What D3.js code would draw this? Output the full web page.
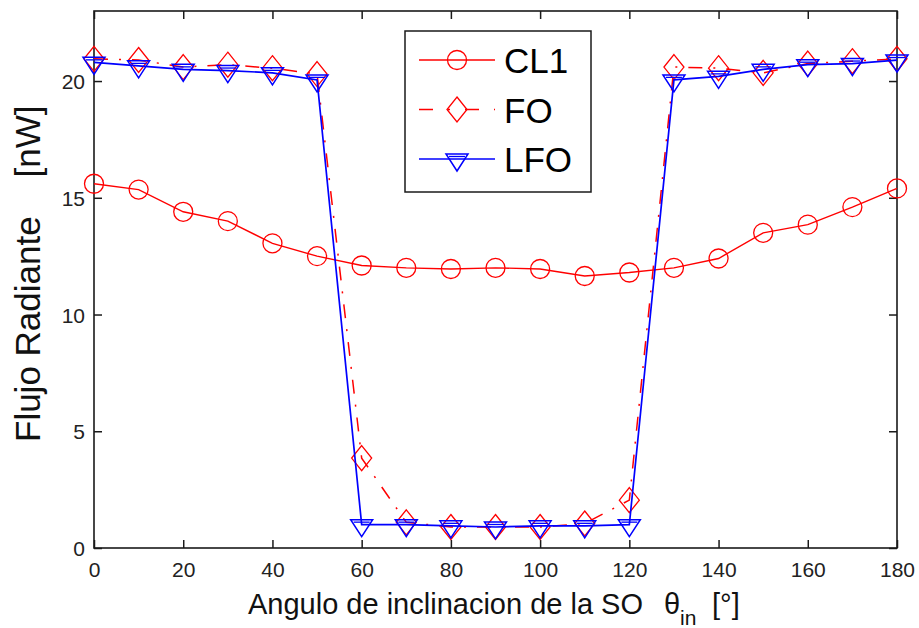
<!DOCTYPE html>
<html><head><meta charset="utf-8">
<script src="https://cdn.jsdelivr.net/npm/d3@7"></script>
<style>
body{margin:0;background:#fff}
svg{display:block}
text{font-family:Arial,"Liberation Sans",Helvetica,sans-serif}
</style>
</head><body>
<svg id="c" width="919" height="628"></svg>
<script>
// ---- data ----
const angles = [0,10,20,30,40,50,60,70,80,90,100,110,120,130,140,150,160,170,180];
const cl1 = [15.6,15.35,14.4,14.0,13.05,12.5,12.1,12.0,11.95,12.0,11.95,11.65,11.8,12.0,12.4,13.5,13.85,14.6,15.4];
const fo  = [20.95,20.9,20.6,20.7,20.55,20.3,3.85,1.1,0.9,0.9,0.9,1.05,2.05,20.6,20.55,20.35,20.75,20.85,20.95];
const lfo = [20.8,20.65,20.5,20.45,20.35,20.05,1.0,1.0,0.95,0.9,0.95,0.95,1.0,20.05,20.2,20.5,20.7,20.75,20.9];
const seriesNames = ["CL1","FO","LFO"];
const xTicks = [0,20,40,60,80,100,120,140,160,180];
const yTicks = [0,5,10,15,20];

const svg = d3.select("#c");
const L = 94, R = 897, T = 11, B = 548;
const x = d3.scaleLinear().domain([0,180]).range([L,R]);
const y = d3.scaleLinear().domain([0,23]).range([B,T]);

const series = [
  {name: seriesNames[0], vals: cl1, color: "#ff0000", dash: null, marker: "circle", width: 1.4},
  {name: seriesNames[1], vals: fo,  color: "#ff0000", dash: "14,11,2,11", marker: "diamond", width: 1.5},
  {name: seriesNames[2], vals: lfo, color: "#0000ff", dash: null, marker: "tri", width: 1.7}
];

function drawMarker(g, type, color){
  if(type==="circle"){
    g.append("circle").attr("r",9.5).attr("fill","none").attr("stroke",color).attr("stroke-width",1.3);
  } else if(type==="diamond"){
    g.append("path").attr("d","M0,-12.5L10,0L0,12.5L-10,0Z").attr("fill","none").attr("stroke",color).attr("stroke-width",1.3);
  } else {
    g.append("path").attr("d","M-11,-5L11,-5L0,12Z").attr("fill","none").attr("stroke",color).attr("stroke-width",1.5);
    g.append("path").attr("d","M-8,-2.5L8,-2.5").attr("stroke",color).attr("stroke-width",1.3);
  }
}

// axes frame with inward ticks
const axisColor = "#1a1a1a";
const gx = svg.append("g").attr("transform",`translate(0,${B})`)
  .call(d3.axisBottom(x).tickValues(xTicks).tickSize(-8).tickPadding(14).tickFormat(d3.format("d")));
const gxt = svg.append("g").attr("transform",`translate(0,${T})`)
  .call(d3.axisTop(x).tickValues(xTicks).tickSize(-8).tickFormat(""));
const gy = svg.append("g").attr("transform",`translate(${L},0)`)
  .call(d3.axisLeft(y).tickValues(yTicks).tickSize(-8).tickPadding(9).tickFormat(d3.format("d")));
const gyr = svg.append("g").attr("transform",`translate(${R},0)`)
  .call(d3.axisRight(y).tickValues(yTicks).tickSize(-8).tickFormat(""));
[gx,gxt,gy,gyr].forEach(g=>{
  g.select(".domain").remove();
  g.selectAll(".tick line").attr("stroke",axisColor).attr("stroke-width",1.5);
  g.selectAll(".tick text").attr("fill","#222").style("font-size","21px");
});
gx.selectAll(".tick text").attr("dy","0.71em").attr("y",14);
gy.selectAll(".tick text").attr("dy","0.36em");
svg.append("rect").attr("x",L).attr("y",T).attr("width",R-L).attr("height",B-T)
  .attr("fill","none").attr("stroke",axisColor).attr("stroke-width",1.6);

// series
const line = d3.line().x(d=>x(d[0])).y(d=>y(d[1]));
series.forEach(s=>{
  const pts = angles.map((a,i)=>[a,s.vals[i]]);
  svg.append("path").datum(pts).attr("d",line).attr("fill","none")
    .attr("stroke",s.color).attr("stroke-width",s.width)
    .attr("stroke-dasharray",s.dash);
  pts.forEach(p=>{
    const g = svg.append("g").attr("transform",`translate(${x(p[0])},${y(p[1])})`);
    drawMarker(g, s.marker, s.color);
  });
});

// legend
const lg = svg.append("g");
lg.append("rect").attr("x",405).attr("y",31).attr("width",186).attr("height",161)
  .attr("fill","#fff").attr("stroke",axisColor).attr("stroke-width",1.5);
series.forEach((s,i)=>{
  const ly = 60 + i*49.5;
  lg.append("path").attr("d",`M419,${ly}L495,${ly}`).attr("stroke",s.color)
    .attr("stroke-width",s.width).attr("stroke-dasharray",s.dash? "14,15,2,15":null);
  const g = lg.append("g").attr("transform",`translate(457,${ly})`);
  drawMarker(g, s.marker, s.color);
  lg.append("text").attr("x",504).attr("y",ly+13).attr("fill","#000")
    .style("font-size","35px").text(s.name);
});

// axis labels
const xl = svg.append("text").attr("x",248).attr("y",614).attr("fill","#111").style("font-size","29px");
xl.append("tspan").text("Angulo de inclinacion de la SO");
xl.append("tspan").attr("x",664).text("θ");
xl.append("tspan").attr("x",680).attr("dy",11).style("font-size","21px").text("in");
xl.append("tspan").attr("x",712).attr("dy",-11).text("[°]");

svg.append("text").attr("transform","translate(40,442) rotate(-90)")
  .attr("fill","#111").style("font-size","35px").style("white-space","pre")
  .attr("xml:space","preserve").text("Flujo Radiante    [nW]");
</script>
</body></html>
